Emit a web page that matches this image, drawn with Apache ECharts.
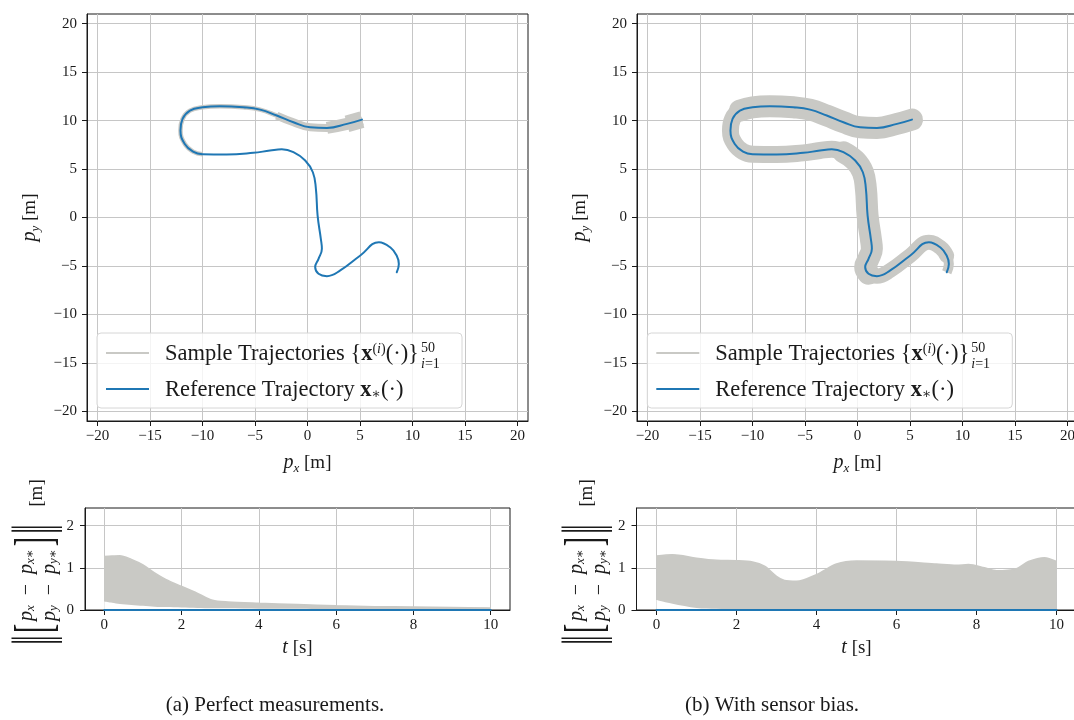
<!DOCTYPE html>
<html><head><meta charset="utf-8">
<script src="https://cdn.jsdelivr.net/npm/echarts@6/dist/echarts.min.js"></script>
<style>html,body{margin:0;padding:0;background:#fff}#c{width:1074px;height:720px}</style>
</head><body><div id="c"></div>
<script>
// ---- data ----
// reference trajectory (p_x, p_y) in metres, from start (t=0) to end (t=10)
const refX = [5.19, 3.76, 1.85, 0.25, -1.34, -2.93, -4.52, -6.11, -8.34, -10.0, -11.2, -11.9, -12.1, -11.69, -10.9, -10.0, -7.71, -5.16, -3.57, -2.45, -1.34, -0.22, 0.51, 0.80, 0.96, 1.27, 1.37, 1.05, 0.73, 1.05, 1.85, 3.12, 5.03, 6.8, 7.9, 8.5, 8.7, 8.5];
const refY = [10.10, 9.66, 9.24, 9.31, 9.83, 10.52, 11.13, 11.37, 11.48, 11.37, 11.03, 10.17, 8.97, 7.59, 6.80, 6.53, 6.49, 6.67, 6.91, 7.04, 6.74, 5.88, 4.67, 2.96, 0.21, -2.20, -3.23, -4.26, -5.12, -5.81, -6.05, -5.46, -3.92, -2.55, -3.1, -3.95, -4.8, -5.65];
// (a) perfect measurements: envelope of the 50 sample error curves
const tA = [0, 0.2, 0.4, 0.7, 1.0, 1.3, 1.6, 2.0, 2.4, 2.8, 3.2, 4, 5, 6, 7, 8, 9, 10];
const errUpA = [1.27, 1.28, 1.29, 1.2, 1.07, 0.88, 0.72, 0.56, 0.4, 0.23, 0.19, 0.16, 0.13, 0.1, 0.08, 0.07, 0.06, 0.05];
const errLoA = [0.2, 0.17, 0.14, 0.12, 0.1, 0.08, 0.07, 0.06, 0.05, 0.04, 0.04, 0.03, 0.03, 0.02, 0.02, 0.02, 0.02, 0.02];
// (b) with sensor bias: envelope of the 50 sample error curves
const tB = [0, 0.4, 1.0, 1.5, 2.0, 2.4, 2.7, 3.0, 3.2, 3.5, 4.0, 4.5, 5.0, 6.0, 7.0, 7.5, 7.8, 8.2, 8.5, 9.0, 9.3, 9.7, 10];
const errUpB = [1.28, 1.31, 1.23, 1.18, 1.17, 1.14, 1.04, 0.80, 0.70, 0.68, 0.84, 1.09, 1.16, 1.15, 1.09, 1.06, 1.08, 1.0, 0.93, 0.98, 1.15, 1.24, 1.15];
const errLoB = [0.24, 0.15, 0.05, 0.03, 0.02, 0.02, 0.02, 0.02, 0.02, 0.02, 0.02, 0.02, 0.02, 0.02, 0.02, 0.02, 0.02, 0.02, 0.02, 0.02, 0.02, 0.02, 0.02];
// reference error (zero)
const refErrT = [0, 10];
const refErrV = [0, 0];
// ticks
const xyTicks = [-20, -15, -10, -5, 0, 5, 10, 15, 20];
const tTicks = [0, 2, 4, 6, 8, 10];
const errTicks = [0, 1, 2];
const captions = ['(a) Perfect measurements.', '(b) With sensor bias.'];
const legendNames = ['Sample Trajectories', 'Reference Trajectory'];

// ---- styling ----
const FONT = '"Liberation Serif", "DejaVu Serif", serif';
const INK = '#1a1a1a';
const GRAY = '#c9c9c5';
const BLUE = '#1f77b4';

const refPts = refX.map((x, i) => [x, refY[i]]);

function axis(gridIndex, min, max, ticks, margin, name, nameGap, nameRotate) {
  return {
    type: 'value', gridIndex, min, max,
    name, nameLocation: 'middle', nameGap, nameRotate: nameRotate || 0,
    nameTextStyle: {
      fontFamily: FONT, fontSize: 19, color: INK, lineHeight: 24,
      rich: {
        i: { fontFamily: FONT, fontStyle: 'italic', fontSize: 20, color: INK, lineHeight: 24 },
        s: { fontFamily: FONT, fontStyle: 'italic', fontSize: 13, color: INK, verticalAlign: 'bottom' }
      }
    },
    axisLine: { show: true, onZero: false, lineStyle: { color: INK, width: 1 } },
    axisTick: { show: true, inside: false, length: 5, customValues: ticks, lineStyle: { color: INK, width: 1 } },
    axisLabel: { show: true, customValues: ticks, margin, fontFamily: FONT, fontSize: 15, color: INK,
      formatter: v => String(v).replace('-', '\u2212') },
    splitLine: { show: true, lineStyle: { color: '#c6c6c6', width: 1 } },
    splitArea: { show: false }
  };
}

function pathSeries(name, pts, idx, color, width, cap) {
  return { type: 'line', name, xAxisIndex: idx, yAxisIndex: idx, data: pts, symbol: 'none', showSymbol: false,
    smooth: 0.45, silent: true, animation: false,
    lineStyle: { color, width, cap: cap || 'round', join: 'round' } };
}

// envelope: gray area under the upper envelope, white area under the lower envelope
function envSeries(idx, t, lo, up) {
  return [
    { type: 'line', name: legendNames[0], xAxisIndex: idx, yAxisIndex: idx, symbol: 'none', smooth: 0.3,
      silent: true, data: t.map((v, i) => [v, up[i]]),
      lineStyle: { color: GRAY, width: 1.5 }, areaStyle: { color: GRAY, opacity: 1 } },
    { type: 'line', name: legendNames[0], xAxisIndex: idx, yAxisIndex: idx, symbol: 'none', smooth: 0.3,
      silent: true, data: t.map((v, i) => [v, lo[i]]),
      lineStyle: { width: 0, opacity: 0 }, areaStyle: { color: '#ffffff', opacity: 1 } }
  ];
}

const series = [
  // (a) top: sample trajectories fan near start, then converged
  pathSeries(legendNames[0], refPts.slice(0, 16), 0, GRAY, 4.5, 'butt'),
  pathSeries(legendNames[0], refPts.slice(0, 6), 0, GRAY, 8, 'butt'),
  pathSeries(legendNames[0], refPts.slice(0, 3), 0, GRAY, 12, 'butt'),
  pathSeries(legendNames[0], refPts.slice(0, 2), 0, GRAY, 17, 'butt'),
  pathSeries(legendNames[1], refPts, 0, BLUE, 2),
  // (b) top: wide tube of samples
  pathSeries(legendNames[0], refPts.slice(0, 11), 1, GRAY, 22),
  pathSeries(legendNames[0], refPts.slice(9, 22), 1, GRAY, 17),
  pathSeries(legendNames[0], refPts.slice(20, 30), 1, GRAY, 22),
  pathSeries(legendNames[0], refPts.slice(28, 36), 1, GRAY, 15),
  pathSeries(legendNames[0], refPts.slice(34), 1, GRAY, 10, 'butt'),
  pathSeries(legendNames[1], refPts, 1, BLUE, 2),
  // bottom error plots
  ...envSeries(2, tA, errLoA, errUpA),
  pathSeries(legendNames[1], refErrT.map((t, i) => [t, refErrV[i]]), 2, BLUE, 2),
  ...envSeries(3, tB, errLoB, errUpB),
  pathSeries(legendNames[1], refErrT.map((t, i) => [t, refErrV[i]]), 3, BLUE, 2)
];

function legendGraphic(dx) {
  const sup = { fontFamily: FONT, fontSize: 14, fill: INK, verticalAlign: 'top' };
  return [
    { type: 'rect', shape: { x: 97 + dx, y: 333, width: 365, height: 75, r: 4 }, z: 100,
      style: { fill: 'rgba(255,255,255,0.8)', stroke: '#d6d6d6', lineWidth: 1 } },
    { type: 'line', shape: { x1: 106 + dx, y1: 353, x2: 149 + dx, y2: 353 }, z: 101, style: { stroke: GRAY, lineWidth: 2 } },
    { type: 'line', shape: { x1: 106 + dx, y1: 389, x2: 149 + dx, y2: 389 }, z: 101, style: { stroke: BLUE, lineWidth: 2 } },
    { type: 'text', x: 165 + dx, y: 354, z: 101, style: {
      text: legendNames[0] + ' {{b|x}{sup|(}{supi|i}{sup|)}(\u00b7)}',
      font: '22.5px ' + FONT, fill: INK, align: 'left', verticalAlign: 'middle',
      rich: { b: { fontFamily: FONT, fontSize: 22.5, fontWeight: 'bold', fill: INK }, sup,
        supi: Object.assign({}, sup, { fontStyle: 'italic' }) } } },
    { type: 'text', x: 421 + dx, y: 348, z: 101, style: { text: '50', font: '14px ' + FONT, fill: INK, align: 'left', verticalAlign: 'middle' } },
    { type: 'text', x: 421 + dx, y: 364, z: 101, style: { text: '{it|i}=1', font: '14px ' + FONT, fill: INK, align: 'left', verticalAlign: 'middle',
      rich: { it: { fontFamily: FONT, fontSize: 14, fontStyle: 'italic', fill: INK } } } },
    { type: 'text', x: 165 + dx, y: 390, z: 101, style: {
      text: legendNames[1] + ' {b|x}{sub|\u2217}(\u00b7)',
      font: '22.5px ' + FONT, fill: INK, align: 'left', verticalAlign: 'middle',
      rich: { b: { fontFamily: FONT, fontSize: 22.5, fontWeight: 'bold', fill: INK },
        sub: { fontFamily: FONT, fontSize: 14, fill: INK, verticalAlign: 'bottom' } } } }
  ];
}

function normLabel(ox) {
  const rowRich = {
    i: { fontFamily: FONT, fontStyle: 'italic', fontSize: 20, fill: INK },
    s: { fontFamily: FONT, fontStyle: 'italic', fontSize: 13, fill: INK, verticalAlign: 'bottom' }
  };
  const t = (text, x, y, font, align, sy, rich) => ({ type: 'text', x, y, scaleY: sy || 1,
    style: { text, font, fill: INK, align: align || 'center', verticalAlign: 'middle', rich } });
  return {
    type: 'group', x: ox, y: 645, rotation: Math.PI / 2,
    children: [
      t('\u2016', 5, 27, '22px "DejaVu Serif"', 'center', 2.3),
      t('[', 12, 27, '28px ' + FONT, 'left', 1.9),
      t('{i|p}{s|x}\u2002\u2212\u2002{i|p}{s|x\u2217}', 24, 17, '20px ' + FONT, 'left', 1, rowRich),
      t('{i|p}{s|y}\u2002\u2212\u2002{i|p}{s|y\u2217}', 24, 40, '20px ' + FONT, 'left', 1, rowRich),
      t(']', 108, 27, '28px ' + FONT, 'right', 1.9),
      t('\u2016', 116, 27, '22px "DejaVu Serif"', 'center', 2.3),
      t('[m]', 152, 27, '19px ' + FONT)
    ]
  };
}

const option = {
  animation: false,
  backgroundColor: '#ffffff',
  textStyle: { fontFamily: FONT },
  grid: [
    { left: 87, top: 14, width: 441, height: 407 },
    { left: 637, top: 14, width: 441, height: 407 },
    { left: 85, top: 508, width: 425, height: 102 },
    { left: 636.5, top: 508, width: 440, height: 102 }
  ].map(g => Object.assign(g, { containLabel: false, outerBoundsMode: 'none', show: true,
    borderColor: INK, borderWidth: 1, backgroundColor: 'transparent' })),
  xAxis: [
    axis(0, -21, 21, xyTicks, 8, '{i|p}{s|x} [m]', 30),
    axis(1, -21, 21, xyTicks, 8, '{i|p}{s|x} [m]', 30),
    axis(2, -0.5, 10.5, tTicks, 8, '{i|t} [s]', 26),
    axis(3, -0.5, 10.5, tTicks, 8, '{i|t} [s]', 26)
  ],
  yAxis: [
    axis(0, -21, 21, xyTicks, 10, '{i|p}{s|y} [m]', 45, 90),
    axis(1, -21, 21, xyTicks, 10, '{i|p}{s|y} [m]', 45, 90),
    axis(2, 0, 2.42, errTicks, 11, '', 0),
    axis(3, 0, 2.42, errTicks, 11, '', 0)
  ],
  series,
  graphic: [
    ...legendGraphic(0),
    ...legendGraphic(550.3),
    normLabel(10),
    normLabel(560),
    { type: 'text', x: 275, y: 705, style: { text: captions[0], font: '21px ' + FONT, fill: INK, align: 'center', verticalAlign: 'middle' } },
    { type: 'text', x: 772, y: 705, style: { text: captions[1], font: '21px ' + FONT, fill: INK, align: 'center', verticalAlign: 'middle' } }
  ]
};

const chart = echarts.init(document.getElementById('c'), null, { renderer: 'canvas', width: 1074, height: 720 });
chart.setOption(option);
</script>
</body></html>
